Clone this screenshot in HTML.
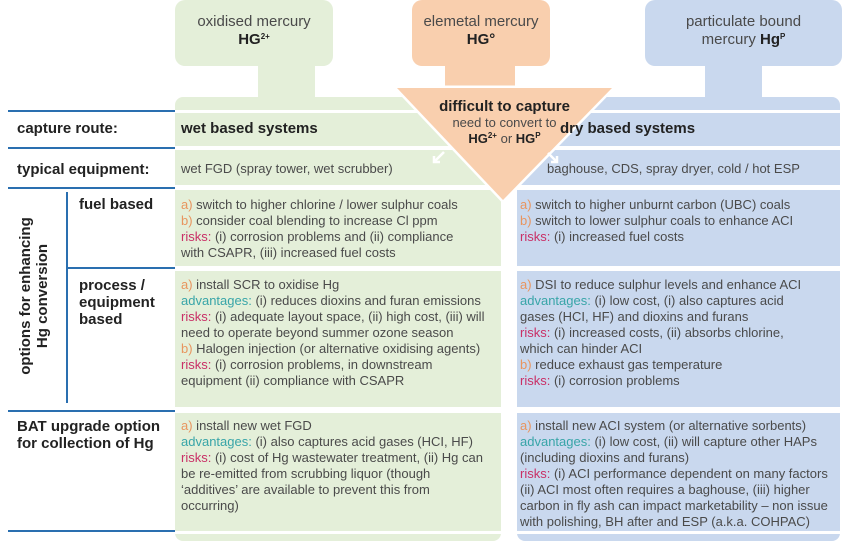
<!DOCTYPE html>
<html><head><meta charset="utf-8"><style>
body{margin:0;width:848px;height:546px;background:#fff;position:relative;overflow:hidden;font-family:"Liberation Sans",sans-serif;color:#444}
.a{position:absolute}
.t{position:absolute;font-size:13px;line-height:16px;color:#4a4a4a;white-space:nowrap}
.o{color:#e8955f}.v{color:#38a5a8}.r{color:#c92f66}
.h{position:absolute;font-size:15px;font-weight:bold;color:#222;line-height:17px}
.ln{position:absolute;height:2px;background:#2a6fb0}
sup{font-size:8px;vertical-align:5px;line-height:0}
</style></head><body>
<svg class="a" style="left:0;top:0" width="848" height="546">
<rect x="175" y="0" width="158" height="66" rx="10" fill="#e4efd9"/>
<rect x="258" y="60" width="57" height="45" fill="#e4efd9"/>
<rect x="175" y="97" width="326" height="444" rx="8" fill="#e4efd9"/>
<rect x="645" y="0" width="197" height="66" rx="10" fill="#c9d8ee"/>
<rect x="705" y="60" width="57" height="45" fill="#c9d8ee"/>
<rect x="517" y="97" width="323" height="444" rx="8" fill="#c9d8ee"/>
<rect x="412" y="0" width="138" height="66" rx="10" fill="#f9cfae"/>
<rect x="445" y="60" width="70" height="35" fill="#f9cfae"/>
<g fill="#fff">
<rect x="170" y="110" width="680" height="3"/>
<rect x="170" y="146" width="680" height="4"/>
<rect x="170" y="185" width="680" height="5"/>
<rect x="170" y="266" width="680" height="5"/>
<rect x="170" y="407" width="680" height="6"/>
<rect x="170" y="531" width="680" height="3"/>
</g>
<polygon points="397,88 612,88 503,200" fill="#f9cfae" stroke="#fff" stroke-width="5" stroke-linejoin="miter"/>
<polygon points="397,88 612,88 503,200" fill="#f9cfae"/>
<g stroke="#fff" stroke-width="2.5" fill="none">
<path d="M444,152 L434,162 M434,156 L434,162 L440,162"/>
<path d="M548,153 L557,162 M557,156 L557,162 L551,162"/>
</g>
</svg>
<div class="t" style="left:175px;width:158px;top:13px;text-align:center;font-size:15px;line-height:18px">oxidised mercury<br><b style="color:#222">HG<sup>2+</sup></b></div>
<div class="t" style="left:412px;width:138px;top:13px;text-align:center;font-size:15px;line-height:18px">elemetal mercury<br><b style="color:#222">HG°</b></div>
<div class="t" style="left:645px;width:197px;top:13px;text-align:center;font-size:15px;line-height:18px">particulate bound<br>mercury <b style="color:#222">Hg<sup>P</sup></b></div>
<div class="t" style="left:412px;width:185px;top:99px;text-align:center"><b style="font-size:15px;color:#222">difficult to capture</b><br>need to convert to<br><b style="color:#222">HG<sup>2+</sup></b> or <b style="color:#222">HG<sup>P</sup></b></div>

<div class="ln" style="left:8px;top:110px;width:167px"></div>
<div class="ln" style="left:8px;top:147px;width:167px"></div>
<div class="ln" style="left:8px;top:187px;width:167px"></div>
<div class="ln" style="left:67px;top:267px;width:108px"></div>
<div class="ln" style="left:8px;top:410px;width:167px"></div>
<div class="ln" style="left:8px;top:530px;width:167px"></div>
<div class="a" style="left:66px;top:192px;width:2px;height:211px;background:#2a6fb0"></div>

<div class="h" style="left:17px;top:120px">capture route:</div>
<div class="h" style="left:17px;top:161px">typical equipment:</div>
<div class="h" style="left:79px;top:196px">fuel based</div>
<div class="h" style="left:79px;top:277px">process /<br>equipment<br>based</div>
<div class="h" style="left:17px;top:418px">BAT upgrade option<br>for collection of Hg</div>
<div class="h" style="left:-51px;top:279px;width:170px;text-align:center;transform:rotate(-90deg)">options for enhancing<br>Hg conversion</div>

<div class="h" style="left:181px;top:120px">wet based systems</div>
<div class="h" style="left:560px;top:120px">dry based systems</div>
<div class="t" style="left:181px;top:161px">wet FGD (spray tower, wet scrubber)</div>
<div class="t" style="left:547px;top:161px">baghouse, CDS, spray dryer, cold / hot ESP</div>

<div class="t" style="left:181px;top:197px"><span class="o">a)</span> switch to higher chlorine / lower sulphur coals<br><span class="o">b)</span> consider coal blending to increase Cl ppm<br><span class="r">risks:</span> (i) corrosion problems and (ii) compliance<br>with CSAPR, (iii) increased fuel costs</div>
<div class="t" style="left:520px;top:197px"><span class="o">a)</span> switch to higher unburnt carbon (UBC) coals<br><span class="o">b)</span> switch to lower sulphur coals to enhance ACI<br><span class="r">risks:</span> (i) increased fuel costs</div>

<div class="t" style="left:181px;top:277px"><span class="o">a)</span> install SCR to oxidise Hg<br><span class="v">advantages:</span> (i) reduces dioxins and furan emissions<br><span class="r">risks:</span> (i) adequate layout space, (ii) high cost, (iii) will<br>need to operate beyond summer ozone season<br><span class="o">b)</span> Halogen injection (or alternative oxidising agents)<br><span class="r">risks:</span> (i) corrosion problems, in downstream<br>equipment (ii) compliance with CSAPR</div>
<div class="t" style="left:520px;top:277px"><span class="o">a)</span> DSI to reduce sulphur levels and enhance ACI<br><span class="v">advantages:</span> (i) low cost, (i) also captures acid<br>gases (HCI, HF) and dioxins and furans<br><span class="r">risks:</span> (i) increased costs, (ii) absorbs chlorine,<br>which can hinder ACI<br><span class="o">b)</span> reduce exhaust gas temperature<br><span class="r">risks:</span> (i) corrosion problems</div>

<div class="t" style="left:181px;top:418px"><span class="o">a)</span> install new wet FGD<br><span class="v">advantages:</span> (i) also captures acid gases (HCI, HF)<br><span class="r">risks:</span> (i) cost of Hg wastewater treatment, (ii) Hg can<br>be re-emitted from scrubbing liquor (though<br>‘additives’ are available to prevent this from<br>occurring)</div>
<div class="t" style="left:520px;top:418px"><span class="o">a)</span> install new ACI system (or alternative sorbents)<br><span class="v">advantages:</span> (i) low cost, (ii) will capture other HAPs<br>(including dioxins and furans)<br><span class="r">risks:</span> (i) ACI performance dependent on many factors<br>(ii) ACI most often requires a baghouse, (iii) higher<br>carbon in fly ash can impact marketability – non issue<br>with polishing, BH after and ESP (a.k.a. COHPAC)</div>
</body></html>
